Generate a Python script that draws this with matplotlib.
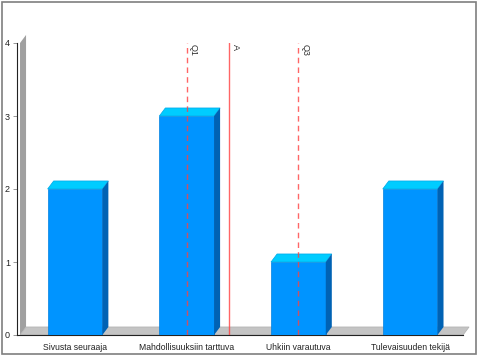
import matplotlib
matplotlib.use("Agg")
import matplotlib.pyplot as plt
from matplotlib.patches import Polygon, Rectangle

categories = ["Sivusta seuraaja", "Mahdollisuuksiin tarttuva", "Uhkiin varautuva", "Tulevaisuuden tekijä"]
values = [2, 3, 1, 2]
yticks = [0, 1, 2, 3, 4]
# statistics markers (category index positions)
marker_names = ["Q1", "A", "Q3"]
marker_pos = [1.0, 1.375, 2.0]
marker_styles = ["--", "-", "--"]

plt.rcParams['font.family'] = ['Liberation Sans', 'DejaVu Sans']

fig = plt.figure(figsize=(4.8, 3.6), dpi=100)
fig.patch.set_facecolor("white")
fig.add_artist(Rectangle((2/480, 6/360), 474/480, 352/360, transform=fig.transFigure,
                         fill=False, edgecolor="#7f7f7f", lw=1.2))

ax = fig.add_axes([17/480, 25/360, 455/480, 292/360])
xl, xr = -0.519, 3.554
ax.set_xlim(xl, xr)
ax.set_ylim(0, 4)
ax.patch.set_alpha(0)

dx, dy = 0.054, 0.11
w = 0.49

# wall
wx0 = -0.492
ax.add_patch(Polygon([(wx0, 0), (wx0, 4), (wx0 + dx, 4 + dy), (wx0 + dx, dy)],
                     closed=True, facecolor="#a0a0a0", edgecolor="none", clip_on=False, zorder=1))
# floor
fx1 = 3.474
ax.add_patch(Polygon([(wx0, 0), (fx1, 0), (fx1 + dx, dy), (wx0 + dx, dy)],
                     closed=True, facecolor="#c4c4c4", edgecolor="#b0b0b0", lw=0.5, clip_on=False, zorder=1))

xs = list(range(len(categories)))
bars = ax.bar(xs, values, width=w, color="#0094ff", edgecolor="#0080e0", lw=0.5, zorder=3)
for b in bars:
    x0 = b.get_x(); x1 = x0 + b.get_width(); h = b.get_height()
    ax.add_patch(Polygon([(x0, h), (x1, h), (x1 + dx, h + dy), (x0 + dx, h + dy)],
                         closed=True, facecolor="#00ccff", edgecolor="#00a8e8", lw=0.5, zorder=3))
    ax.add_patch(Polygon([(x1, 0), (x1, h), (x1 + dx, h + dy), (x1 + dx, dy)],
                         closed=True, facecolor="#0062b4", edgecolor="none", zorder=3))

for name, pos, ls in zip(marker_names, marker_pos, marker_styles):
    ax.plot([pos, pos], [0, 4], color="#ff4040", ls=ls, lw=1.0, alpha=0.8,
            dashes=(4, 3) if ls == "--" else (None, None), zorder=4)
    ax.text(pos + 0.02, 3.98, name, rotation=-90, ha="left", va="top",
            fontsize=6.5, color="#333333", zorder=5)

for s in ["top", "right"]:
    ax.spines[s].set_visible(False)
ax.spines["left"].set_color("#222222")
ax.spines["bottom"].set_color("#222222")
ax.spines["bottom"].set_bounds(xl, fx1)
ax.set_yticks(yticks)
ax.set_yticklabels([str(t) for t in yticks], fontsize=6.5, color="#222222")
ax.tick_params(axis="y", length=3, width=0.6, pad=2, color="#888888")
ax.set_xticks(xs)
ax.set_xticklabels(categories, fontsize=6.2, color="#222222")
ax.tick_params(axis="x", length=0, pad=6)

fig.savefig("out.png", dpi=100)
